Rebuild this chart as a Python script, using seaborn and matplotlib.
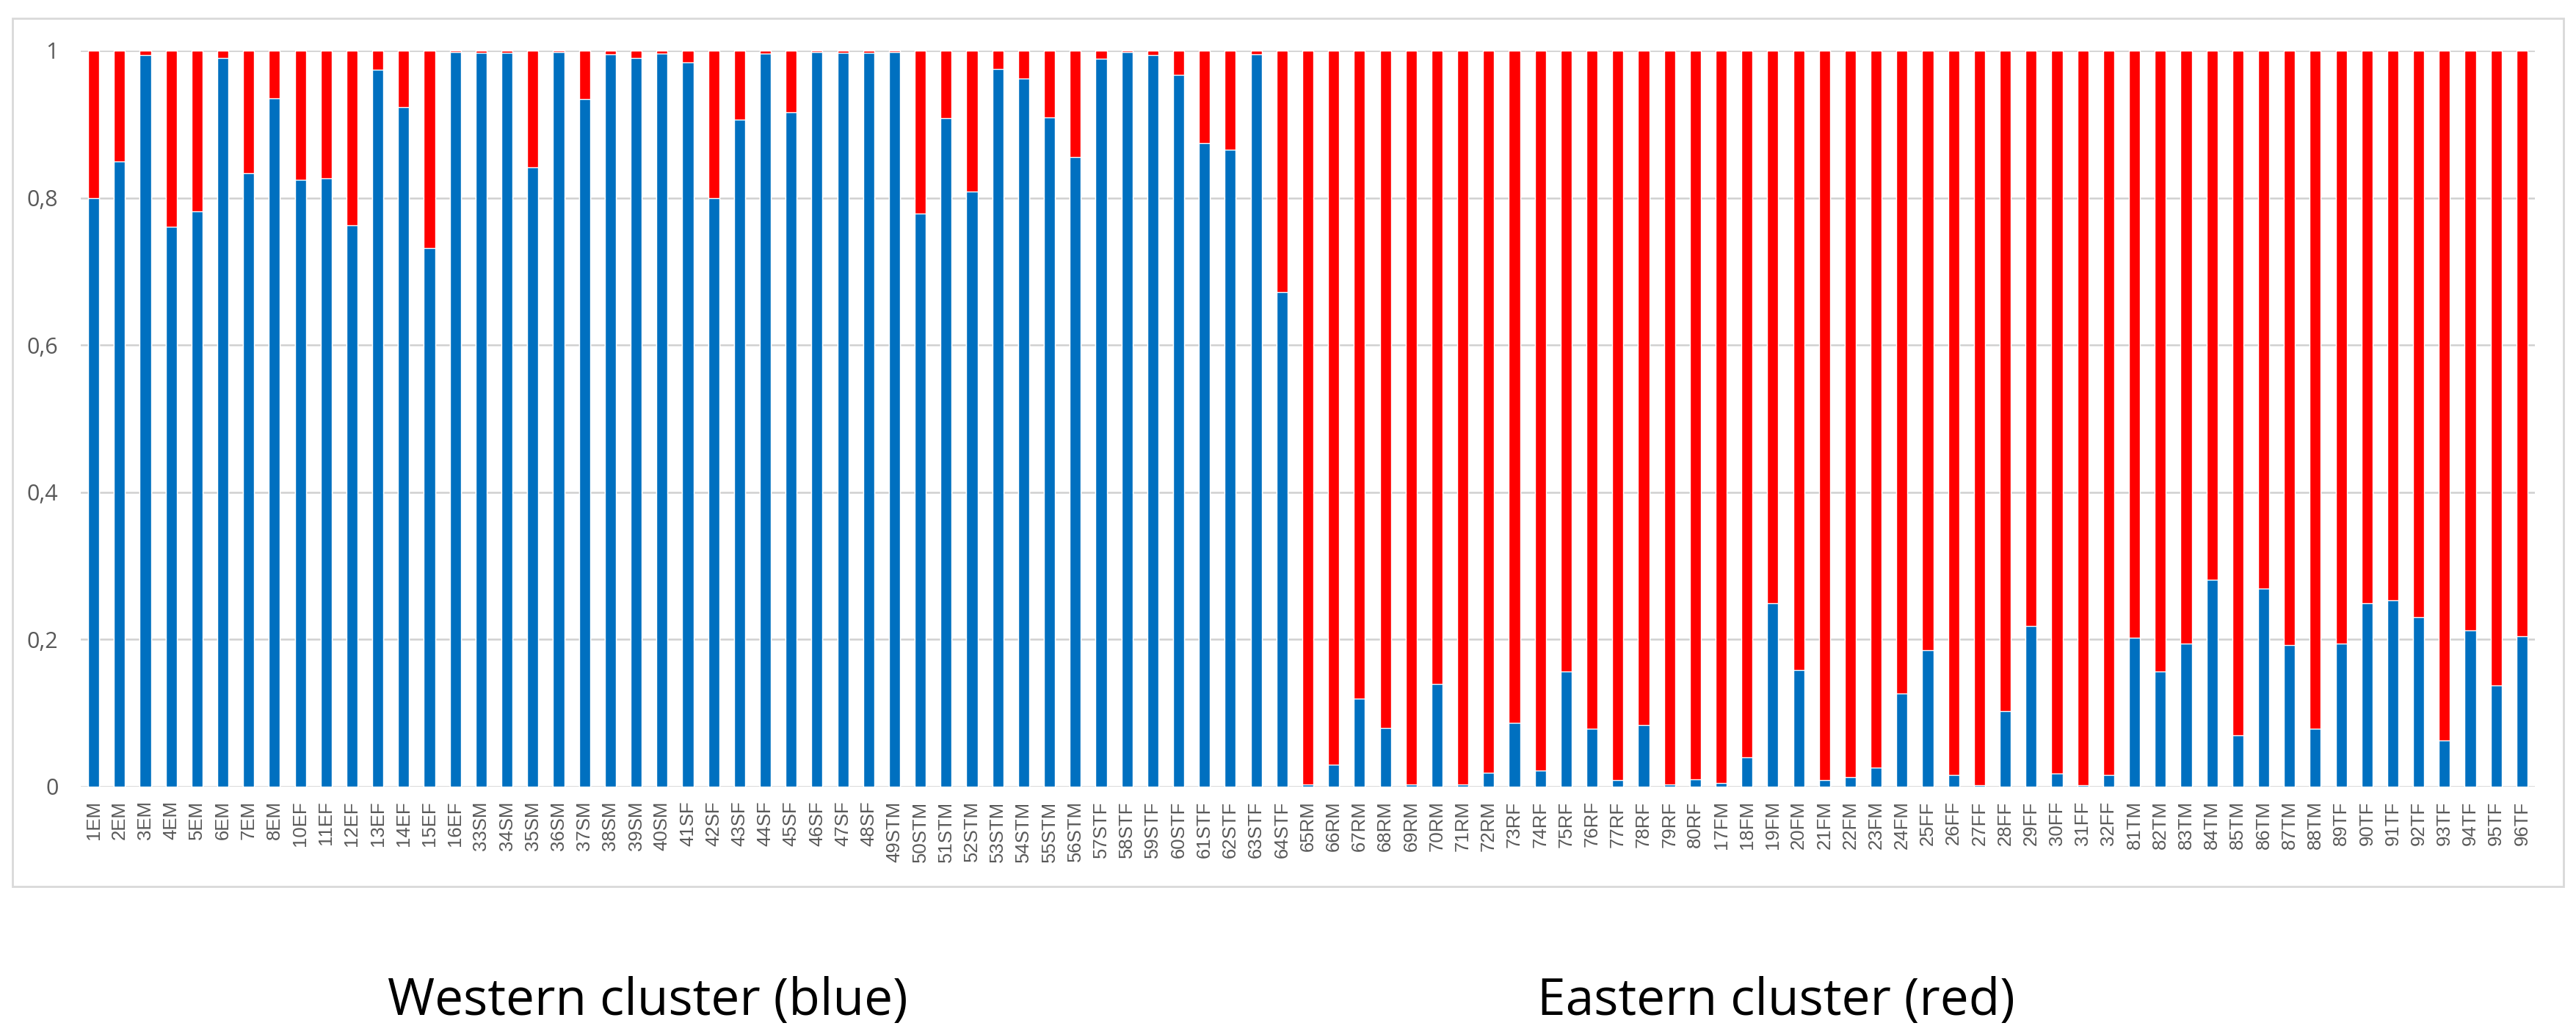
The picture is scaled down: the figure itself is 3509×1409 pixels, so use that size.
import matplotlib
matplotlib.use('Agg')
import matplotlib.pyplot as plt
import seaborn as sns
import pandas as pd
from matplotlib.patches import Rectangle

# sample labels, west to east
labels = (
    ['1EM', '2EM', '3EM', '4EM', '5EM', '6EM', '7EM', '8EM']
    + ['10EF', '11EF', '12EF', '13EF', '14EF', '15EF', '16EF']
    + ['33SM', '34SM', '35SM', '36SM', '37SM', '38SM', '39SM', '40SM']
    + ['41SF', '42SF', '43SF', '44SF', '45SF', '46SF', '47SF', '48SF']
    + ['49STM', '50STM', '51STM', '52STM', '53STM', '54STM', '55STM', '56STM']
    + ['57STF', '58STF', '59STF', '60STF', '61STF', '62STF', '63STF', '64STF']
    + ['65RM', '66RM', '67RM', '68RM', '69RM', '70RM', '71RM', '72RM']
    + ['73RF', '74RF', '75RF', '76RF', '77RF', '78RF', '79RF', '80RF']
    + ['17FM', '18FM', '19FM', '20FM', '21FM', '22FM', '23FM', '24FM']
    + ['25FF', '26FF', '27FF', '28FF', '29FF', '30FF', '31FF', '32FF']
    + ['81TM', '82TM', '83TM', '84TM', '85TM', '86TM', '87TM', '88TM']
    + ['89TF', '90TF', '91TF', '92TF', '93TF', '94TF', '95TF', '96TF']
)

# membership in the western cluster (blue part of each bar)
western = [
    0.800, 0.849, 0.994, 0.761, 0.782, 0.990, 0.833, 0.935,
    0.825, 0.827, 0.763, 0.974, 0.923, 0.732, 0.998,
    0.997, 0.997, 0.841, 0.998, 0.934, 0.995, 0.990, 0.996,
    0.984, 0.800, 0.906, 0.996, 0.916, 0.998, 0.997, 0.997,
    0.998, 0.779, 0.908, 0.809, 0.975, 0.962, 0.909, 0.855,
    0.989, 0.998, 0.994, 0.967, 0.874, 0.865, 0.995, 0.672,
    0.003, 0.030, 0.120, 0.080, 0.003, 0.140, 0.003, 0.019,
    0.087, 0.022, 0.157, 0.079, 0.009, 0.084, 0.003, 0.010,
    0.005, 0.040, 0.249, 0.159, 0.009, 0.013, 0.026, 0.127,
    0.185, 0.016, 0.002, 0.103, 0.218, 0.018, 0.002, 0.016,
    0.202, 0.157, 0.194, 0.281, 0.070, 0.269, 0.192, 0.079,
    0.194, 0.249, 0.253, 0.230, 0.063, 0.212, 0.138, 0.204,
]
# eastern cluster (red part) is the remainder
eastern = [round(1 - w, 3) for w in western]

ytick_vals = [0, 0.2, 0.4, 0.6, 0.8, 1]
ytick_text = ['0', '0,2', '0,4', '0,6', '0,8', '1']

df = pd.DataFrame({'sample': labels, 'western': western, 'eastern': eastern})
df['total'] = df['western'] + df['eastern']

sns.set_style('white')
plt.rcParams['font.family'] = ['Liberation Sans', 'DejaVu Sans']

fig = plt.figure(figsize=(35.09, 14.09), dpi=100)
ax = fig.add_axes([0.03135, 0.23918, 0.95269, 0.71185])

# stacked bars: full height in red, western share in blue on top
sns.barplot(data=df, x='sample', y='total', color='#FF0000', width=0.43,
            saturation=1, ax=ax, zorder=2)
sns.barplot(data=df, x='sample', y='western', color='#0070C0', width=0.43,
            saturation=1, ax=ax, zorder=3)

ax.set_xlim(-0.5, len(labels) - 0.5)
ax.set_ylim(0, 1)
ax.set_yticks(ytick_vals)
ax.set_yticklabels(ytick_text, fontsize=22, color='#595959', family='Open Sans')
ax.tick_params(axis='y', length=0, pad=22)
ax.tick_params(axis='x', length=0, pad=14, labelsize=18.5, labelcolor='#595959',
               labelrotation=90)
ax.set_xlabel('')
ax.set_ylabel('')
for y in ytick_vals:
    ax.axhline(y, color='#d0d0d0', lw=1.8, zorder=1)
for s in ax.spines.values():
    s.set_visible(False)

# outer chart frame
fig.patches.append(Rectangle((0.00484, 0.14265), 0.99032, 0.83961,
                             transform=fig.transFigure, fill=False,
                             edgecolor='#d9d9d9', lw=2))

fig.text(882 / 3509, 1 - 1365 / 1409, 'Western cluster (blue)', fontsize=50,
         family='Open Sans', ha='center', va='center', color='black')
fig.text(2419 / 3509, 1 - 1365 / 1409, 'Eastern cluster (red)', fontsize=50,
         family='Open Sans', ha='center', va='center', color='black')

fig.savefig('out.png', dpi=100)
